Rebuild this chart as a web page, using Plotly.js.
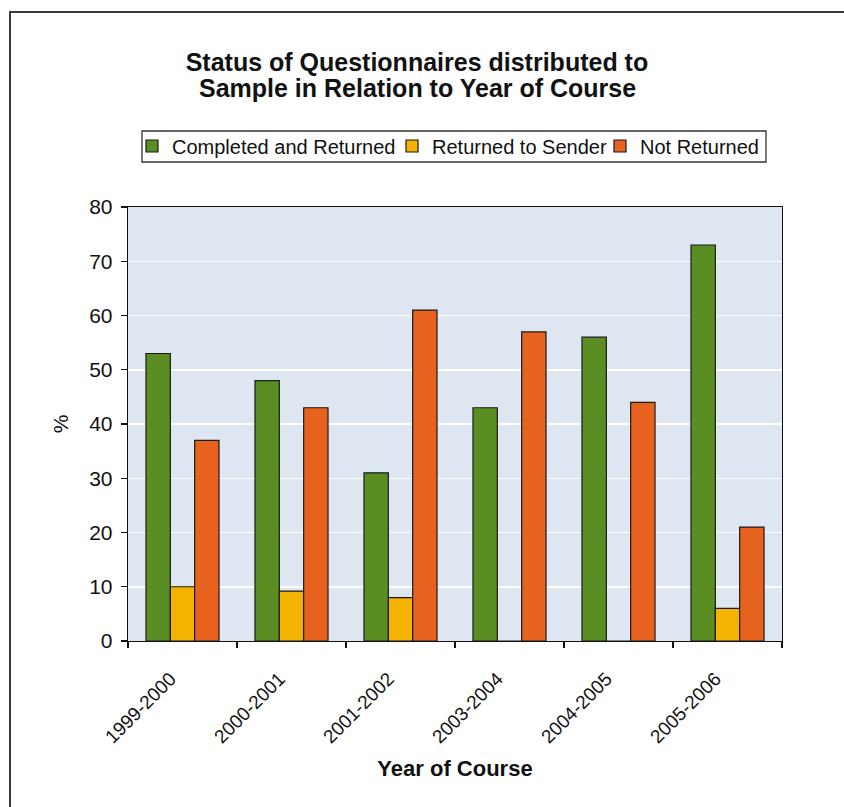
<!DOCTYPE html>
<html>
<head>
<meta charset="utf-8">
<script src="https://cdn.plot.ly/plotly-3.0.1.min.js"></script>
<style>
  html, body { margin: 0; padding: 0; background: #fff; }
  #wrap { position: relative; width: 844px; height: 807px; }
  #chart { width: 844px; height: 807px; }
  #frame { position: absolute; left: 9px; top: 11px; right: 0; bottom: 0;
           border-left: 2px solid #3a3a3a; border-top: 2px solid #3a3a3a; pointer-events: none; }
</style>
</head>
<body>
<div id="wrap">
  <div id="chart"></div>
  <div id="frame"></div>
</div>
<script>
const years = ["1999-2000", "2000-2001", "2001-2002", "2003-2004", "2004-2005", "2005-2006"];
const completedReturned = [53, 48, 31, 43, 56, 73];
const returnedToSender = [10, 9.2, 8, 0, 0, 6];
const notReturned = [37, 43, 61, 57, 44, 21];
const seriesNames = ["Completed and Returned", "Returned to Sender", "Not Returned"];
const seriesColors = ["#5b8e22", "#f4b300", "#e8621f"];
const titleLines = ["Status of Questionnaires distributed to", "Sample in Relation to Year of Course"];

const seriesValues = [completedReturned, returnedToSender, notReturned];
const legendIds = ["legend", "legend2", "legend3"];
const traces = seriesValues.map((vals, i) => ({
  type: "bar",
  name: seriesNames[i],
  x: years,
  y: vals,
  legend: legendIds[i],
  marker: { color: seriesColors[i], line: { color: "#1a1a1a", width: 1.2 } },
  hoverinfo: "x+y+name"
}));

const font = "Arial, 'Liberation Sans', Helvetica, sans-serif";
const legendBase = {
  orientation: "h",
  xanchor: "left",
  y: 1.1406, yanchor: "middle",
  borderwidth: 0,
  bgcolor: "rgba(0,0,0,0)",
  font: { family: font, size: 20, color: "#111" },
  itemwidth: 30
};
const legendX = [0.0061, 0.4037, 0.7217];

const layout = {
  width: 844, height: 807,
  margin: { l: 128, r: 62, t: 207, b: 166 },
  paper_bgcolor: "#ffffff",
  plot_bgcolor: "#dee6f2",
  font: { family: font, color: "#111" },
  title: {
    text: "<b>" + titleLines[0] + "</b>",
    font: { family: font, size: 25, color: "#111" },
    x: 0.494, xanchor: "center",
    y: 0.9232, yanchor: "middle"
  },
  annotations: [{
    text: "<b>" + titleLines[1] + "</b>",
    xref: "paper", yref: "paper",
    x: 0.4419, xanchor: "center",
    y: 1.2742, yanchor: "middle",
    showarrow: false,
    font: { family: font, size: 25, color: "#111" }
  }],
  barmode: "group",
  bargap: 0.33,
  bargroupgap: 0,
  showlegend: true,
  legend: Object.assign({}, legendBase, { x: legendX[0] }),
  legend2: Object.assign({}, legendBase, { x: legendX[1] }),
  legend3: Object.assign({}, legendBase, { x: legendX[2] }),
  shapes: [{
    type: "rect", xref: "paper", yref: "paper",
    x0: 0.0214, x1: 0.9755, y0: 1.1037, y1: 1.1751,
    line: { color: "#333", width: 1.3 }, fillcolor: "rgba(0,0,0,0)"
  }],
  xaxis: {
    type: "category",
    tickangle: -45,
    tickson: "boundaries",
    ticks: "outside", ticklen: 6, tickcolor: "#111", tickwidth: 1.3,
    ticklabelshift: -12,
    ticklabelstandoff: 18,
    showline: true, linecolor: "#111", linewidth: 1.3, mirror: true,
    showgrid: false,
    tickfont: { family: font, size: 19, color: "#111" },
    title: { text: "<b>Year of Course</b>", font: { family: font, size: 22, color: "#111" }, standoff: 14 }
  },
  yaxis: {
    range: [0, 80],
    dtick: 10,
    ticks: "outside", ticklen: 6, tickcolor: "#111", tickwidth: 1.3,
    ticklabelstandoff: 4,
    showline: true, linecolor: "#111", linewidth: 1.3, mirror: true,
    showgrid: true, gridcolor: "#ffffff", gridwidth: 1.5,
    zeroline: false,
    tickfont: { family: font, size: 21, color: "#111" },
    title: { text: "%", font: { family: font, size: 21, color: "#111" }, standoff: 14 }
  }
};

Plotly.newPlot("chart", traces, layout, { displayModeBar: false, staticPlot: true });
</script>
</body>
</html>
